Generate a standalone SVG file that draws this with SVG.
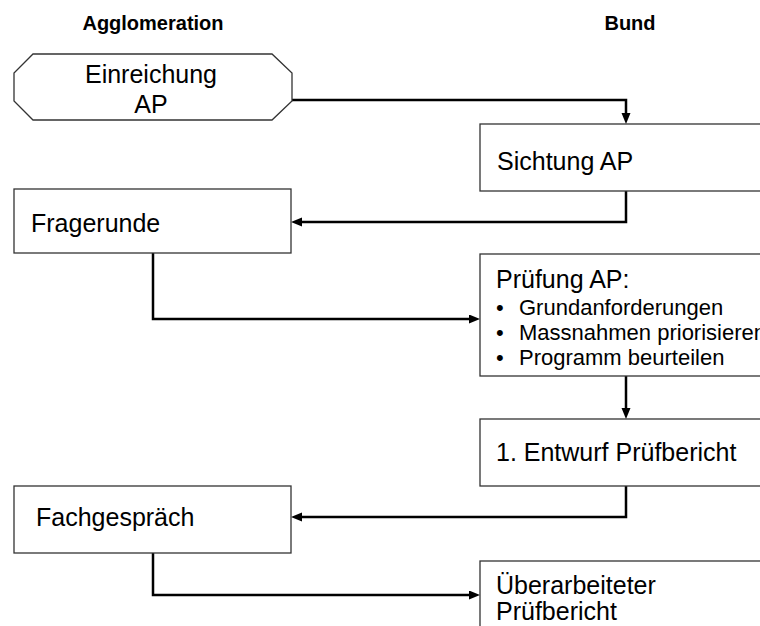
<svg xmlns="http://www.w3.org/2000/svg" width="760" height="626" viewBox="0 0 760 626">
<style>
.t{font-family:"Liberation Sans",Arial,sans-serif;font-size:25px;fill:#000}
.b{font-family:"Liberation Sans",Arial,sans-serif;font-size:22px;fill:#000}
.h{font-family:"Liberation Sans",Arial,sans-serif;font-size:20px;font-weight:bold;fill:#000}
.box{fill:#fff;stroke:#333;stroke-width:1.3}
.c{fill:none;stroke:#000;stroke-width:2.5}
</style>
<defs>
<marker id="ah" markerUnits="userSpaceOnUse" markerWidth="12" markerHeight="10" refX="5" refY="4.5" orient="auto">
<path d="M0,0 L11,4.5 L0,9 z" fill="#000"/>
</marker>
</defs>
<rect width="760" height="626" fill="#fff"/>
<text class="h" x="153" y="30" text-anchor="middle">Agglomeration</text>
<text class="h" x="630" y="30" text-anchor="middle">Bund</text>
<g id="connectors">
<path class="c" d="M292,100 H626 V118" marker-end="url(#ah)"/>
<path class="c" d="M626,191 V222 H297" marker-end="url(#ah)"/>
<path class="c" d="M153,253 V319 H474" marker-end="url(#ah)"/>
<path class="c" d="M626,376 V413" marker-end="url(#ah)"/>
<path class="c" d="M626,486 V517 H297" marker-end="url(#ah)"/>
<path class="c" d="M153,553 V595 H474" marker-end="url(#ah)"/>
</g>
<g id="einreichung">
<polygon class="box" points="33,54 272,54 292,73 292,101 272,120 33,120 14,101 14,73"/>
<text class="t" x="151" y="83" text-anchor="middle">Einreichung</text>
<text class="t" x="151" y="113" text-anchor="middle">AP</text>
</g>
<g id="sichtung">
<rect class="box" x="480" y="124" width="320" height="67"/>
<text class="t" x="497" y="170">Sichtung AP</text>
</g>
<g id="fragerunde">
<rect class="box" x="14" y="189" width="277" height="64"/>
<text class="t" x="31" y="232">Fragerunde</text>
</g>
<g id="pruefung">
<rect class="box" x="480" y="254" width="320" height="122"/>
<text class="t" x="496" y="288">Prüfung AP:</text>
<text class="b" x="496" y="315">•</text>
<text class="b" x="519" y="315">Grundanforderungen</text>
<text class="b" x="496" y="340">•</text>
<text class="b" x="519" y="340">Massnahmen priorisieren</text>
<text class="b" x="496" y="365">•</text>
<text class="b" x="519" y="365">Programm beurteilen</text>
</g>
<g id="entwurf">
<rect class="box" x="480" y="419" width="320" height="67"/>
<text class="t" x="496" y="461">1. Entwurf Prüfbericht</text>
</g>
<g id="fachgespraech">
<rect class="box" x="14" y="486" width="277" height="67"/>
<text class="t" x="36" y="526">Fachgespräch</text>
</g>
<g id="ueberarbeitet">
<rect class="box" x="480" y="561" width="320" height="100"/>
<text class="t" x="496" y="594">Überarbeiteter</text>
<text class="t" x="496" y="620">Prüfbericht</text>
</g>
</svg>
